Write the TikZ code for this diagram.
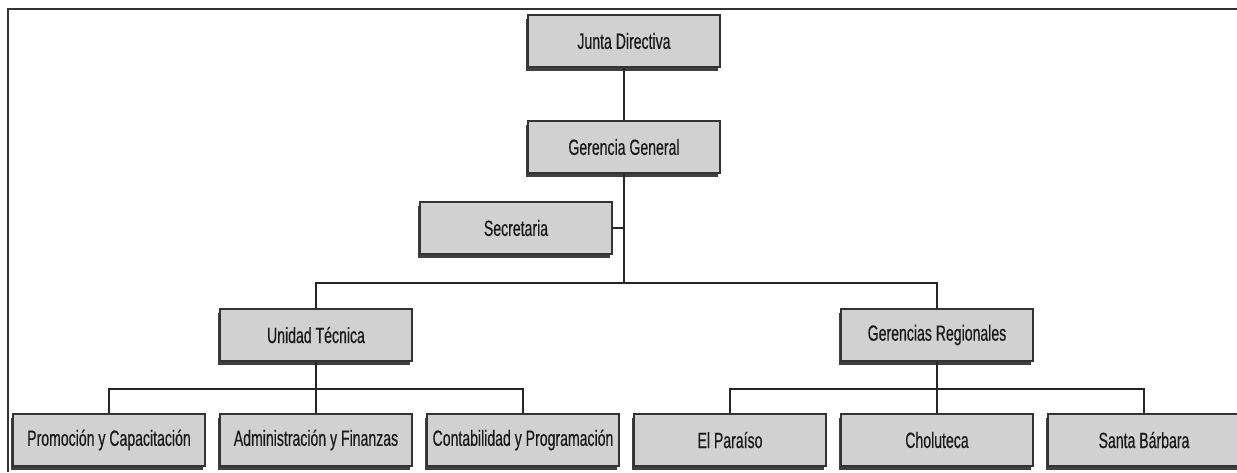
\documentclass[tikz,border=0pt]{standalone}
\usepackage{fontspec}
\setmainfont[FakeStretch=0.64,FakeBold=0.4]{Liberation Sans}
\usetikzlibrary{positioning,shadows}

\tikzset{
  unit/.style={draw=black!80, line width=0.8pt, fill=black!18, text=black!90,
    minimum width=96pt, minimum height=26pt, inner sep=1pt,
    font=\fontsize{11}{13}\selectfont,
    general shadow={fill=black!75, shadow xshift=-1pt, shadow yshift=-2pt}},
  link/.style={draw=black!85, line width=0.6pt}
}

\begin{document}
\begin{tikzpicture}[x=0.5pt,y=-0.5pt]
  \useasboundingbox (0,0) rectangle (1237,472);
  \draw[line width=1pt,black!80] (8,472) -- (8,9) -- (1237,9);

  % top of the chart
  \node[unit] (junta) at (624,41) {Junta Directiva};
  \node[unit] (gerencia) at (624,147) {Gerencia General};
  \node[unit] (secret) at (516,228) {Secretaria};

  % second level
  \node[unit] (tecnica) at (316,335) {Unidad Técnica};
  \node[unit] (regional) at (937,335) {Gerencias Regionales};

  % bottom row
  \node[unit] (promo) at (109,440) {Promoción y Capacitación};
  \node[unit] (admin) at (316,440) {Administración y Finanzas};
  \node[unit] (conta) at (523,440) {Contabilidad y Programación};
  \node[unit] (paraiso) at (730,440) {El Paraíso};
  \node[unit] (choluteca) at (937,440) {Choluteca};
  \node[unit] (santa) at (1144,440) {Santa Bárbara};

  \coordinate (split) at (624,283);
  \coordinate (tsplit) at (316,389);
  \coordinate (rsplit) at (937,389);

  \draw[link] (junta) -- (gerencia);
  \draw[link] (gerencia) -- (split);
  \draw[link] (secret.east) -- (secret.east -| split);
  \draw[link] (split) -| (tecnica);
  \draw[link] (split) -| (regional);

  \draw[link] (tecnica) -- (tsplit);
  \draw[link] (tsplit) -| (promo);
  \draw[link] (tsplit) -- (admin);
  \draw[link] (tsplit) -| (conta);

  \draw[link] (regional) -- (rsplit);
  \draw[link] (rsplit) -| (paraiso);
  \draw[link] (rsplit) -- (choluteca);
  \draw[link] (rsplit) -| (santa);
\end{tikzpicture}
\end{document}
